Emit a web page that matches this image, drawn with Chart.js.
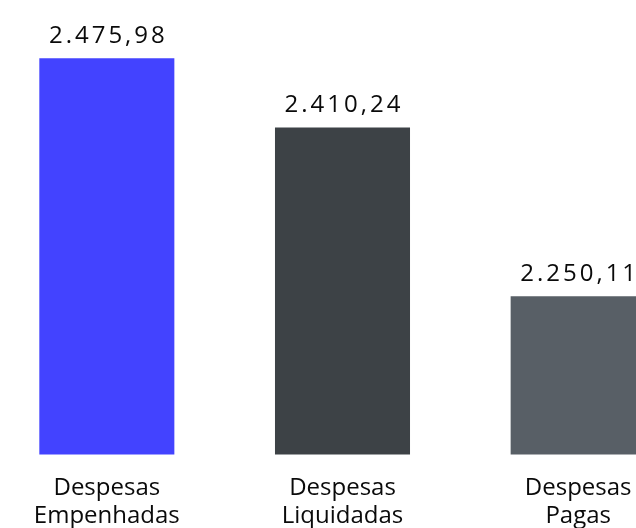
<!DOCTYPE html>
<html>
<head>
<meta charset="utf-8">
<script src="https://cdn.jsdelivr.net/npm/chart.js@4"></script>
<style>
  html, body { margin: 0; padding: 0; background: #fff; overflow: hidden; height: 528px; }
  #wrap { position: relative; width: 707px; height: 544px; margin-left: -11px; }
</style>
</head>
<body>
<div id="wrap"><canvas id="chart_despesas"></canvas></div>
<script>
const categorias = [['Despesas', 'Empenhadas'], ['Despesas', 'Liquidadas'], ['Despesas', 'Pagas']];
const valores = [2475.98, 2410.24, 2250.11];
const cores = ['#4343ff', '#3d4246', '#585f66'];

const fmt = v => v.toLocaleString('pt-BR', { minimumFractionDigits: 2, maximumFractionDigits: 2 });

const rotulos = {
  id: 'rotulos',
  afterDatasetsDraw(chart) {
    const ctx = chart.ctx;
    const meta = chart.getDatasetMeta(0);
    ctx.save();
    ctx.font = '24px "Open Sans", sans-serif';
    ctx.letterSpacing = '3px';
    ctx.fillStyle = '#0a0a0a';
    ctx.textAlign = 'center';
    ctx.textBaseline = 'bottom';
    meta.data.forEach((bar, i) => {
      ctx.fillText(fmt(valores[i]), bar.x + 1.5, bar.y - 10);
    });
    ctx.restore();
  }
};

new Chart(document.getElementById('chart_despesas'), {
  type: 'bar',
  data: {
    labels: categorias,
    datasets: [{
      data: valores,
      backgroundColor: cores,
      borderWidth: 0,
      barPercentage: 0.573,
      categoryPercentage: 1
    }]
  },
  options: {
    responsive: true,
    maintainAspectRatio: false,
    animation: false,
    layout: { padding: { top: 33, bottom: 2 } },
    plugins: { legend: { display: false }, tooltip: { enabled: false } },
    scales: {
      y: { display: false, min: 2100, max: 2500 },
      x: {
        grid: { display: false },
        border: { display: false },
        ticks: {
          color: '#0a0a0a',
          padding: 11,
          font: { family: '"Open Sans", sans-serif', size: 24, lineHeight: 1.2 }
        }
      }
    }
  },
  plugins: [rotulos]
});
</script>
</body>
</html>
